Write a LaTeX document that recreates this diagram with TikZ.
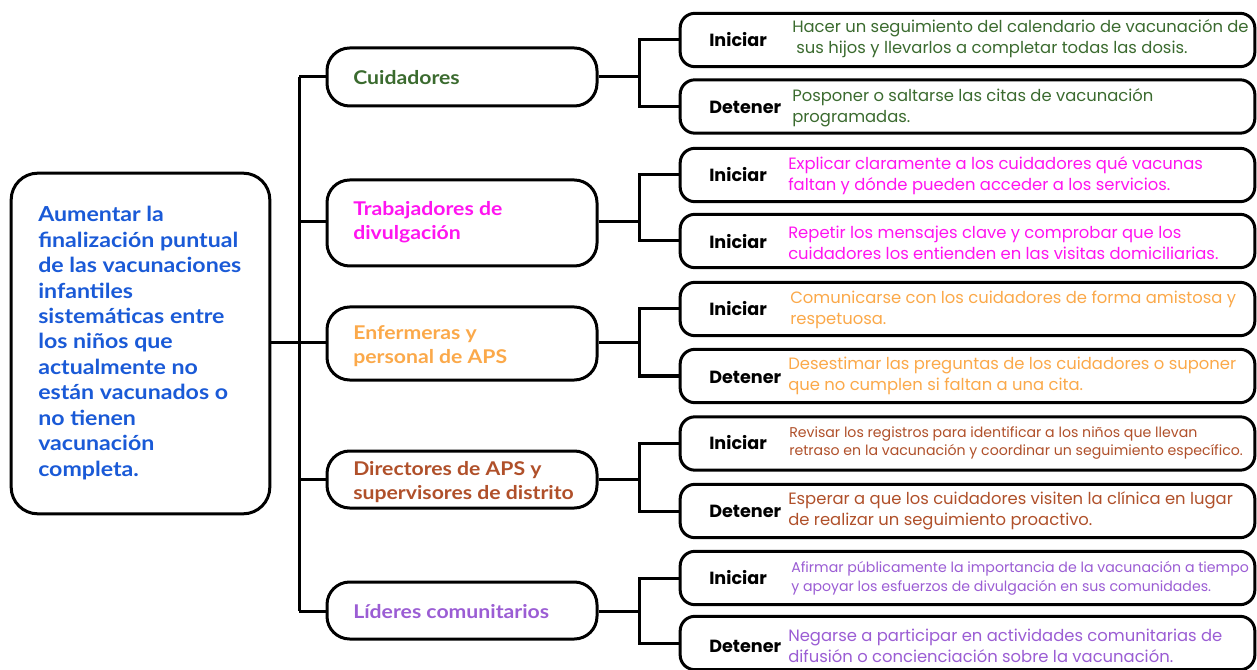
\documentclass[tikz,border=0pt]{standalone}
\usepackage{fontspec}
\setmainfont{Lato}
\newfontfamily\headfont{Lato}[FakeStretch=1.12]
\newfontfamily\labfont{Poppins}
\newfontfamily\descfont{Poppins}
\definecolor{cgreen}{HTML}{3B6B2F}
\definecolor{cmag}{HTML}{FF14F0}
\definecolor{corange}{HTML}{FBA94A}
\definecolor{cbrown}{HTML}{B0502A}
\definecolor{cpurple}{HTML}{9B5DD4}
\definecolor{cblue}{HTML}{1A5AD7}
\tikzset{
  wire/.style={draw=black, line width=2.25pt},
  mainbox/.style={draw=black, line width=2.25pt, rounded corners=20pt, fill=white,
    minimum width=194pt, minimum height=255.5pt, inner sep=0pt},
  catbox/.style={draw=black, line width=2.25pt, rounded corners=17pt, fill=white,
    minimum width=202.5pt, inner sep=0pt},
  leafbox/.style={draw=black, line width=2.25pt, rounded corners=11pt, fill=white,
    minimum width=431pt, minimum height=40pt, inner sep=0pt},
  maintext/.style={anchor=west, inner sep=0pt, align=left, text=cblue,
    font=\headfont\bfseries\fontsize{15.5}{19.1}\selectfont},
  cattext/.style={anchor=west, inner sep=0pt, align=left,
    font=\headfont\bfseries\fontsize{14.2}{17.6}\selectfont},
  lab/.style={anchor=west, inner sep=0pt, font=\labfont\bfseries\fontsize{13.2}{15}\selectfont},
  desc/.style={anchor=west, inner sep=0pt, align=left,
    font=\descfont\fontsize{12.3}{15.6}\selectfont},
  descsmall/.style={anchor=west, inner sep=0pt, align=left,
    font=\descfont\fontsize{10.6}{14.2}\selectfont},
}
\begin{document}
\begin{tikzpicture}[x=0.75pt,y=-0.75pt]
\useasboundingbox (0,0) rectangle (1257,670);

% main box
\node[mainbox] (main) at (140.5,343.5) {};
\node[maintext] (maint) at (38,343) {Aumentar la\\finalización puntual\\de las vacunaciones\\infantiles\\sistemáticas entre\\los niños que\\actualmente no\\están vacunados o\\no tienen\\vacunación\\completa.};

% trunk
\coordinate (tm) at (299,343);
\coordinate (t1) at (299,77);
\coordinate (t2) at (299,222);
\coordinate (t3) at (299,343);
\coordinate (t4) at (299,479);
\coordinate (t5) at (299,611);
\draw[wire] (main.east |- tm) -- (tm);
\draw[wire] (t1) -- (t5);

% categories
\node[catbox, minimum height=43.5pt] (c1) at (462,77) {};
\node[catbox, minimum height=64.5pt] (c2) at (462,223) {};
\node[catbox, minimum height=54.75pt] (c3) at (462,343.5) {};
\node[catbox, minimum height=42.75pt] (c4) at (462,479.5) {};
\node[catbox, minimum height=42.75pt] (c5) at (462,610.5) {};
\node[cattext, text=cgreen] (c1t) at (353,78) {Cuidadores};
\node[cattext, text=cmag] (c2t) at (353,222) {Trabajadores de\\divulgación};
\node[cattext, text=corange] (c3t) at (353,346) {Enfermeras y\\personal de APS};
\node[cattext, text=cbrown] (c4t) at (353,482) {Directores de APS y\\supervisores de distrito};
\node[cattext, text=cpurple] (c5t) at (353,612) {Líderes comunitarios};

\foreach \i in {1,...,5} { \draw[wire] (t\i) -- (c\i.west |- t\i); }

% leaves
\node[leafbox] (l1) at (967.5,40) {};
\node[leafbox] (l2) at (967.5,106.5) {};
\node[leafbox] (l3) at (967.5,175) {};
\node[leafbox] (l4) at (967.5,241) {};
\node[leafbox] (l5) at (967.5,309) {};
\node[leafbox] (l6) at (967.5,376) {};
\node[leafbox] (l7) at (967.5,443.5) {};
\node[leafbox] (l8) at (967.5,511) {};
\node[leafbox] (l9) at (967.5,578) {};
\node[leafbox] (l10) at (967.5,643) {};

% brackets
\coordinate (b1) at (639,77);
\coordinate (b2) at (639,222);
\coordinate (b3) at (639,343);
\coordinate (b4) at (639,479);
\coordinate (b5) at (639,611);
\foreach \i/\u/\d in {1/1/2, 2/3/4, 3/5/6, 4/7/8, 5/9/10} {
  \draw[wire] (c\i.east |- b\i) -- (b\i);
  \draw[wire] (l\u.west) -| (b\i) |- (l\d.west);
}

% labels
\node[lab] (k1) at (709,40) {Iniciar};
\node[lab] (k2) at (709,107) {Detener};
\node[lab] (k3) at (709,175) {Iniciar};
\node[lab] (k4) at (709,242) {Iniciar};
\node[lab] (k5) at (709,309) {Iniciar};
\node[lab] (k6) at (709,377) {Detener};
\node[lab] (k7) at (709,443) {Iniciar};
\node[lab] (k8) at (709,511) {Detener};
\node[lab] (k9) at (709,578) {Iniciar};
\node[lab] (k10) at (709,646) {Detener};

% descriptions
\node[desc, text=cgreen] (d1) at (792,39) {Hacer un seguimiento del calendario de vacunación de\\\hspace*{0.25em}sus hijos y llevarlos a completar todas las dosis.};
\node[desc, text=cgreen] (d2) at (792,108) {Posponer o saltarse las citas de vacunación\\programadas.};
\node[desc, text=cmag] (d3) at (788,176) {Explicar claramente a los cuidadores qué vacunas\\faltan y dónde pueden acceder a los servicios.};
\node[desc, text=cmag] (d4) at (788,243) {Repetir los mensajes clave y comprobar que los\\cuidadores los entienden en las visitas domiciliarias.};
\node[desc, text=corange] (d5) at (790,310) {Comunicarse con los cuidadores de forma amistosa y\\respetuosa.};
\node[desc, text=corange] (d6) at (788,376) {Desestimar las preguntas de los cuidadores o suponer\\que no cumplen si faltan a una cita.};
\node[descsmall, text=cbrown] (d7) at (789,443) {Revisar los registros para identificar a los niños que llevan\\retraso en la vacunación y coordinar un seguimiento específico.};
\node[desc, text=cbrown] (d8) at (788,511) {Esperar a que los cuidadores visiten la clínica en lugar\\de realizar un seguimiento proactivo.};
\node[descsmall, text=cpurple] (d9) at (791,578) {Afirmar públicamente la importancia de la vacunación a tiempo\\y apoyar los esfuerzos de divulgación en sus comunidades.};
\node[desc, text=cpurple] (d10) at (788,646) {Negarse a participar en actividades comunitarias de\\difusión o concienciación sobre la vacunación.};
\end{tikzpicture}
\end{document}
